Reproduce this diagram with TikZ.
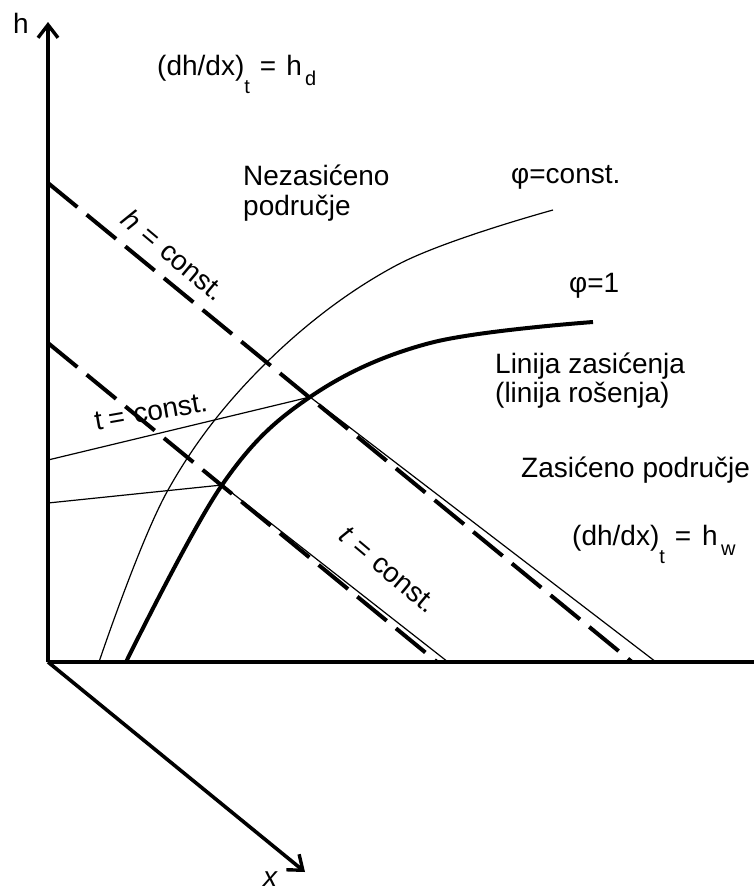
\documentclass[tikz,border=0pt]{standalone}
\usepackage{fontspec}
\setmainfont{Liberation Sans}
\usetikzlibrary{arrows.meta}
\newcommand\lowsub[2]{\raisebox{-#1}{\fontsize{20}{20}\selectfont #2}}
\begin{document}
\begin{tikzpicture}[x=1pt,y=-1pt,
  axisline/.style={line width=3.6pt},
  axisarrow/.style={line width=3.6pt,-{Straight Barb[length=13pt,width=20pt,line width=3.4pt]}},
  satcurve/.style={line width=4pt},
  thinline/.style={line width=1.2pt},
  dashline/.style={line width=4pt,dash pattern=on 38pt off 12pt},
  lbl/.style={font=\fontsize{28}{31}\selectfont,inner sep=0pt}]
\useasboundingbox (0,0) rectangle (754,886);
% coordinates
\coordinate (O) at (48,662);
\coordinate (Htip) at (48,22);
\coordinate (Xend) at (754,662);
\coordinate (Xtip) at (305,872);
\coordinate (A) at (310,397);
\coordinate (B) at (222,485);
\coordinate (H0) at (48,183);
\coordinate (H1) at (632,662);
\coordinate (T0) at (48,343);
\coordinate (T1) at (437,662);
\coordinate (Hth) at (656,662);
\coordinate (Tth) at (448,662);
\coordinate (L1) at (48,460);
\coordinate (L2) at (48,503);
% thin lines
\draw[thinline] (L1) -- (A);
\draw[thinline] (L2) -- (B);
\draw[thinline] (A) -- (Hth);
\draw[thinline] (B) -- (Tth);
\draw[thinline] plot[smooth,tension=0.6] coordinates {(99,662) (168,490) (267,362) (397,265) (553,210)};
% dashed lines
\draw[dashline] (H0) -- (H1);
\draw[dashline] (T0) -- (T1);
% saturation curve
\draw[satcurve] plot[smooth,tension=0.6] coordinates {(126,662) (B) (A) (430,343) (593,322)};
% axes
\draw[axisarrow] (O) -- (Htip);
\draw[axisline] (O) -- (Xend);
\draw[axisarrow] (O) -- (Xtip);
% labels
\node[lbl,anchor=base west] (hlab) at (13,33) {h};
\node[lbl,anchor=base west] (xlab) at (263,886) {\textit{x}};
\node[lbl,anchor=base west] (hd) at (157,75) {(dh/dx)\lowsub{18pt}{t}\hspace{10pt}=\hspace{10pt}h\lowsub{10pt}{\,d}};
\node[lbl,anchor=base west] (nez) at (243,185) {Nezasićeno};
\node[lbl,anchor=base west] (nez2) at (243,215) {područje};
\node[lbl,anchor=base west] (phic) at (511,183) {φ=const.};
\node[lbl,anchor=base west] (phi1) at (569,292) {φ=1};
\node[lbl,anchor=base west] (lin1) at (495,373) {Linija zasićenja};
\node[lbl,anchor=base west] (lin2) at (495,402) {(linija rošenja)};
\node[lbl,anchor=base west] (zas) at (521,477) {Zasićeno područje};
\node[lbl,anchor=base west] (hw) at (572,545) {(dh/dx)\lowsub{18pt}{t}\hspace{10pt}=\hspace{11pt}h\lowsub{10pt}{\,w}};
\node[lbl,rotate=-40] (hconst) at (174,255) {\textit{h}\hspace{9pt}=\hspace{9pt}const.};
\node[lbl,rotate=10] (tconst) at (151,412) {t\hspace{6pt}=\hspace{9pt}const.};
\node[lbl,rotate=-40] (tconst2) at (388,570) {\textit{t}\hspace{9pt}=\hspace{9pt}const.};
\end{tikzpicture}
\end{document}
